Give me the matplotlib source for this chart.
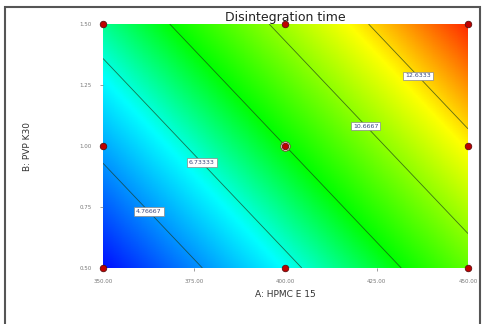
import numpy as np
import matplotlib
matplotlib.use("Agg")
import matplotlib.pyplot as plt
from matplotlib.colors import LinearSegmentedColormap
from matplotlib.patches import Rectangle

# design space
a_range = [350.0, 450.0]
b_range = [0.50, 1.50]
x_ticks = [350, 375, 400, 425, 450]
y_ticks = [0.50, 0.75, 1.00, 1.25, 1.50]

# fitted linear model in coded units: Y = b0 + bA*A + bB*B
b0 = 8.70
bA = 3.61
bB = 2.29

# design points (3x3 factorial with centre point)
pts_a = [350, 350, 350, 400, 400, 400, 450, 450, 450]
pts_b = [0.5, 1.0, 1.5, 0.5, 1.0, 1.5, 0.5, 1.0, 1.5]

# contour lines that carry a label, and where the labels sit
label_idx = [0, 1, 3, 4]
label_pos = [(363.4, 0.742), (377.9, 0.943), (422.6, 1.09), (436.8, 1.295)]

cmap = LinearSegmentedColormap.from_list(
    "de", [(0.0, "#0010ff"), (0.3, "#00ffff"), (0.5, "#00ff00"),
           (0.8, "#ffff00"), (1.0, "#ff2a00")])

A = np.linspace(a_range[0], a_range[1], 300)
B = np.linspace(b_range[0], b_range[1], 300)
AA, BB = np.meshgrid(A, B)
cA = (AA - 400.0) / 50.0
cB = (BB - 1.0) / 0.5
Z = b0 + bA * cA + bB * cB

zmin, zmax = Z.min(), Z.max()
levels = np.linspace(zmin, zmax, 7)[1:-1]

fig = plt.figure(figsize=(4.89, 3.24), dpi=100)
ax = fig.add_axes([0.2106, 0.1728, 0.7464, 0.7531])

ax.imshow(Z, extent=[a_range[0], a_range[1], b_range[0], b_range[1]],
          origin="lower", aspect="auto", cmap=cmap, vmin=zmin, vmax=zmax,
          interpolation="bilinear")
cs = ax.contour(AA, BB, Z, levels=levels, colors="#1a3a1a",
                linewidths=0.6, alpha=0.7)

# labelled subset drawn as an invisible set so clabel only sees those
lab_levels = [levels[i] for i in label_idx]
cs_lab = ax.contour(AA, BB, Z, levels=lab_levels, colors="none",
                    linewidths=0)
texts = ax.clabel(cs_lab, manual=label_pos, inline=False,
                  fontsize=4.5, fmt="%g", colors="#3a4a80")
for t in texts:
    t.set_rotation(0)
    t.set_bbox(dict(facecolor="white", edgecolor="#888888", linewidth=0.5,
                    boxstyle="square,pad=0.3"))

ax.scatter(pts_a, pts_b, s=22, color="#c00000", edgecolors="#5a1010",
           linewidths=0.6, zorder=5, clip_on=False)
ax.scatter([400], [1.0], s=46, facecolors="white", edgecolors="#803030",
           linewidths=0.6, zorder=4, clip_on=False)

ax.set_xlim(a_range)
ax.set_ylim(b_range)
ax.set_xticks(x_ticks)
ax.set_yticks(y_ticks)
ax.set_xticklabels([f"{v:.2f}" for v in x_ticks])
ax.set_yticklabels([f"{v:.2f}" for v in y_ticks])
ax.tick_params(labelsize=4, colors="#777777", length=2, width=0.5, pad=6)
for s in ax.spines.values():
    s.set_visible(False)

ax.set_xlabel("A: HPMC E 15", fontsize=6.5, color="#333333", labelpad=4)
ax.set_ylabel("B: PVP K30", fontsize=6.5, color="#333333", labelpad=34)
ax.set_title("Disintegration time", fontsize=9, color="#222222", pad=2)

# outer frame of the graph pane
fig.patches.append(Rectangle((5 / 489, -0.05), 475 / 489, 1.05 - 7 / 324,
                             transform=fig.transFigure, fill=False,
                             edgecolor="#555555", linewidth=1.5))

fig.savefig("out.png", dpi=100)
